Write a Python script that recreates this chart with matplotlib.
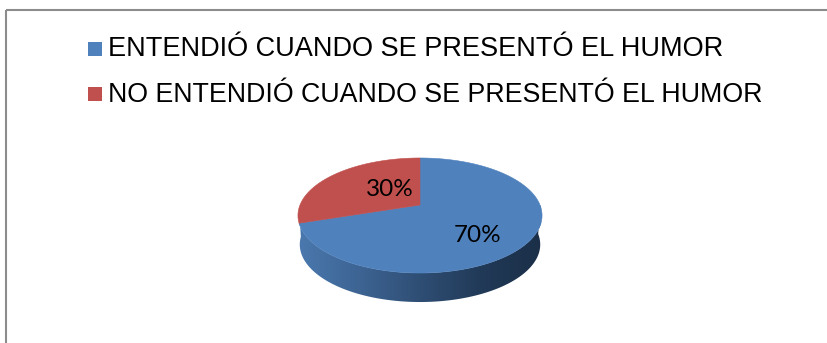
import numpy as np
import matplotlib
matplotlib.use('Agg')
import matplotlib.pyplot as plt
from matplotlib.colors import LinearSegmentedColormap
from matplotlib.patches import Polygon, Rectangle

categories = ['ENTENDIÓ CUANDO SE PRESENTÓ EL HUMOR', 'NO ENTENDIÓ CUANDO SE PRESENTÓ EL HUMOR']
values = [70, 30]
labels = ['70%', '30%']
colors = ['#4f81bd', '#c0504d']

W, H = 827, 343
CX, CY = 420, 205
A, B, K = 120, 55.6, 0.1826
DEPTH = 29


def project(theta):
    # circle seen in perspective, near edge gets stretched
    u, v = np.cos(theta), np.sin(theta)
    d = 1 + K * v
    return CX + A * u / d, CY - B * v / d


def wedge_points(a0, a1):
    t = np.linspace(a0, a1, 200)
    x, y = project(t)
    return np.column_stack([np.r_[CX, x], np.r_[CY, y]])


fig = plt.figure(figsize=(W / 100, H / 100), dpi=100)
ax = fig.add_axes([0, 0, 1, 1])
ax.set_xlim(0, W)
ax.set_ylim(H, 0)
ax.axis('off')

# outer frame, runs off the right and bottom edges
ax.add_patch(Rectangle((6, 10), W + 20, H + 20, fill=False, ec='#8c8c8c', lw=1.5))

# angles go clockwise from the top, blue first
fractions = np.array(values) / sum(values)
edges = np.pi / 2 - 2 * np.pi * np.r_[0, np.cumsum(fractions)]

# side wall of the first slice, shaded left to right
t_wall = np.linspace(np.pi + 0.05, 2 * np.pi, 200)
tx, ty = project(t_wall)
bx = CX + (tx - CX) * 0.985
by = ty + DEPTH
wall = np.column_stack([np.r_[tx, bx[::-1]], np.r_[ty, by[::-1]]])
wall_cmap = LinearSegmentedColormap.from_list('wall', ['#4a78ae', '#3d6493', '#2f4e74', '#213a58', '#1b2f48'])
im = ax.imshow(np.linspace(0, 1, 256)[None, :], cmap=wall_cmap, extent=[299, 541, 310, 200],
               aspect='auto', zorder=2)
im.set_clip_path(Polygon(wall, transform=ax.transData))
ax.set_xlim(0, W)
ax.set_ylim(H, 0)

# top face
for i, color in enumerate(colors):
    ax.add_patch(Polygon(wedge_points(edges[i], edges[i + 1]), fc=color, ec=color, lw=0.4, zorder=3))

# percentage labels
label_xy = [(477.5, 241.5), (389.5, 196)]
for text, (x, y) in zip(labels, label_xy):
    ax.text(x, y, text, family='Lato', fontsize=17.5, color='black', ha='center', va='baseline', zorder=4)

# legend
legend_y = [56.5, 102.5]
swatch_y = [42, 87]
legend_size = [19.5, 19.3]
for name, color, y, sy, size in zip(categories, colors, legend_y, swatch_y, legend_size):
    ax.add_patch(Rectangle((88, sy), 14, 14, fc=color, ec='none'))
    ax.text(108, y, name, family='Liberation Sans', fontsize=size, color='black', va='baseline', ha='left')

fig.savefig('out.png', dpi=100)
